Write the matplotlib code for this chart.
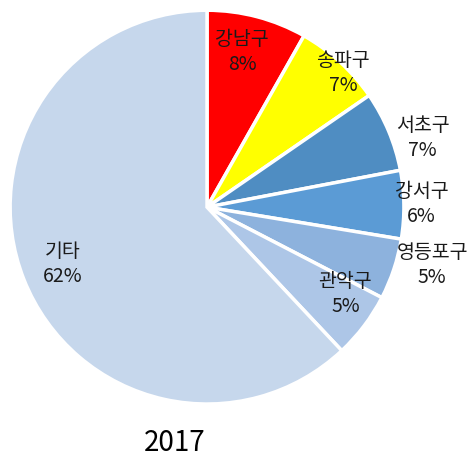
import matplotlib
matplotlib.use('Agg')
import matplotlib.pyplot as plt
import numpy as np

plt.rcParams['font.family'] = ['Noto Sans CJK KR', 'DejaVu Sans']

# 2017년 구별 비율 (%)
districts = ['강남구', '송파구', '서초구', '강서구', '영등포구', '관악구', '기타']
shares = [8.2, 7.2, 6.6, 5.6, 5.0, 5.4, 62.0]
colors = ['#FF0000', '#FFFF00', '#4F8DC2', '#5B9BD5', '#8DB2DD', '#ADC6E7', '#C6D7EC']
title = '2017'

# 라벨 위치 (반지름 배율, 각도 보정)
label_r = [0.81, 0.97, 1.15, 1.09, 1.18, 0.83, 0.79]
label_da = [2, -3, -5, 0, 4, 5, 0]

fig = plt.figure(figsize=(4.77, 4.66), dpi=100)
ax = fig.add_axes([0.021, 0.133, 0.826, 0.845])
wedges, _ = ax.pie(shares, colors=colors, startangle=90, counterclock=False,
                   wedgeprops=dict(edgecolor='white', linewidth=2.5))
ax.set_xlim(-1, 1)
ax.set_ylim(-1, 1)
ax.set_aspect('equal')

for w, name, val, r, da in zip(wedges, districts, shares, label_r, label_da):
    ang = np.deg2rad((w.theta1 + w.theta2) / 2 + da)
    ax.text(r * np.cos(ang), r * np.sin(ang), f'{name}\n{round(val)}%',
            ha='center', va='center', fontsize=14, color='#1a1a1a',
            linespacing=1.25, clip_on=False)

fig.text(175 / 477, 1 - 443 / 466, title, ha='center', va='center', fontsize=20, color='black')

fig.savefig('out.png')
